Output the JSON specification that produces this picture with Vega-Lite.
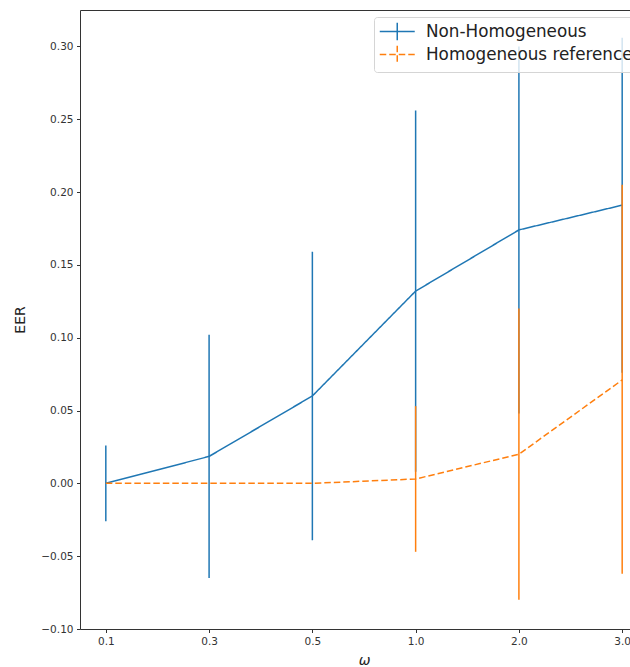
{
  "$schema": "https://vega.github.io/schema/vega-lite/v6.json",
  "autosize": {"type": "none"},
  "padding": {"left": 80, "top": 10, "right": 0, "bottom": 38},
  "width": 568,
  "height": 619,
  "background": "white",
  "data": {
    "values": [
      {"series": "Non-Homogeneous", "omega": "0.1", "mean": 0.0, "lo": -0.026, "hi": 0.026},
      {"series": "Non-Homogeneous", "omega": "0.3", "mean": 0.0185, "lo": -0.065, "hi": 0.102},
      {"series": "Non-Homogeneous", "omega": "0.5", "mean": 0.060, "lo": -0.039, "hi": 0.159},
      {"series": "Non-Homogeneous", "omega": "1.0", "mean": 0.132, "lo": 0.008, "hi": 0.256},
      {"series": "Non-Homogeneous", "omega": "2.0", "mean": 0.174, "lo": 0.048, "hi": 0.300},
      {"series": "Non-Homogeneous", "omega": "3.0", "mean": 0.191, "lo": 0.076, "hi": 0.306},
      {"series": "Homogeneous reference", "omega": "0.1", "mean": 0.0, "lo": 0.0, "hi": 0.0},
      {"series": "Homogeneous reference", "omega": "0.3", "mean": 0.0, "lo": 0.0, "hi": 0.0},
      {"series": "Homogeneous reference", "omega": "0.5", "mean": 0.0, "lo": 0.0, "hi": 0.0},
      {"series": "Homogeneous reference", "omega": "1.0", "mean": 0.003, "lo": -0.047, "hi": 0.053},
      {"series": "Homogeneous reference", "omega": "2.0", "mean": 0.020, "lo": -0.080, "hi": 0.120},
      {"series": "Homogeneous reference", "omega": "3.0", "mean": 0.071, "lo": -0.062, "hi": 0.205}
    ]
  },
  "encoding": {
    "x": {
      "field": "omega", "type": "ordinal",
      "sort": ["0.1", "0.3", "0.5", "1.0", "2.0", "3.0"],
      "scale": {"type": "point", "padding": 0.25},
      "axis": {
        "title": "ω", "titleFontStyle": "italic", "titleFont": "DejaVu Sans", "titleFontSize": 14,
        "titleFontWeight": "normal", "titleColor": "#222", "titleBaseline": "alphabetic", "titleY": 35,
        "labelAngle": 0
      }
    },
    "color": {
      "field": "series", "type": "nominal",
      "scale": {"domain": ["Non-Homogeneous", "Homogeneous reference"], "range": ["#1f77b4", "#ff7f0e"]},
      "legend": {"title": null}
    }
  },
  "layer": [
    {
      "transform": [{"filter": "datum.series === 'Non-Homogeneous'"}],
      "mark": {"type": "rule", "strokeWidth": 1.5},
      "encoding": {
        "y": {"field": "lo", "type": "quantitative"},
        "y2": {"field": "hi"}
      }
    },
    {
      "transform": [{"filter": "datum.series === 'Non-Homogeneous'"}],
      "mark": {"type": "line", "strokeWidth": 1.5},
      "encoding": {
        "y": {"field": "mean", "type": "quantitative"},
        "strokeDash": {
          "field": "series", "type": "nominal",
          "scale": {"domain": ["Non-Homogeneous", "Homogeneous reference"], "range": [[1, 0], [6.5, 3]]},
          "legend": {"title": null}
        }
      }
    },
    {
      "transform": [{"filter": "datum.series === 'Homogeneous reference'"}],
      "mark": {"type": "rule", "strokeWidth": 1.5},
      "encoding": {
        "y": {"field": "lo", "type": "quantitative"},
        "y2": {"field": "hi"}
      }
    },
    {
      "transform": [{"filter": "datum.series === 'Homogeneous reference'"}],
      "mark": {"type": "line", "strokeWidth": 1.5},
      "encoding": {
        "y": {
          "field": "mean", "type": "quantitative",
          "scale": {"domain": [-0.1, 0.325], "nice": false, "zero": false},
          "axis": {
            "title": "EER", "values": [-0.10, -0.05, 0.0, 0.05, 0.10, 0.15, 0.20, 0.25, 0.30], "format": ".2f",
            "titleFont": "DejaVu Sans", "titleFontSize": 14, "titleFontWeight": "normal", "titleColor": "#222",
            "titleBaseline": "alphabetic", "titleX": -56, "titleY": 309.5, "titleAngle": -90
          }
        },
        "strokeDash": {
          "field": "series", "type": "nominal",
          "scale": {"domain": ["Non-Homogeneous", "Homogeneous reference"], "range": [[1, 0], [6.5, 3]]},
          "legend": {"title": null}
        }
      }
    }
  ],
  "resolve": {"scale": {"y": "shared"}},
  "config": {
    "view": {"stroke": "#333", "strokeWidth": 1},
    "axis": {
      "grid": false, "domain": false,
      "tickSize": 3.5, "tickColor": "#333", "tickWidth": 1,
      "labelFont": "DejaVu Sans", "labelFontSize": 10.5, "labelColor": "#333", "labelPadding": 3.5
    },
    "legend": {
      "orient": "none", "legendX": 294, "legendY": 7,
      "symbolType": "M-1,0H3M1,-1V1", "symbolSize": 306, "symbolStrokeWidth": 1.5,
      "symbolFillColor": "transparent",
      "labelFont": "DejaVu Sans", "labelFontSize": 16.8, "labelColor": "#222", "labelOffset": 28,
      "padding": 5, "rowPadding": -2,
      "strokeColor": "#d5d5d5", "fillColor": "rgba(255,255,255,0.8)", "cornerRadius": 3,
      "labelLimit": 400
    }
  }
}
